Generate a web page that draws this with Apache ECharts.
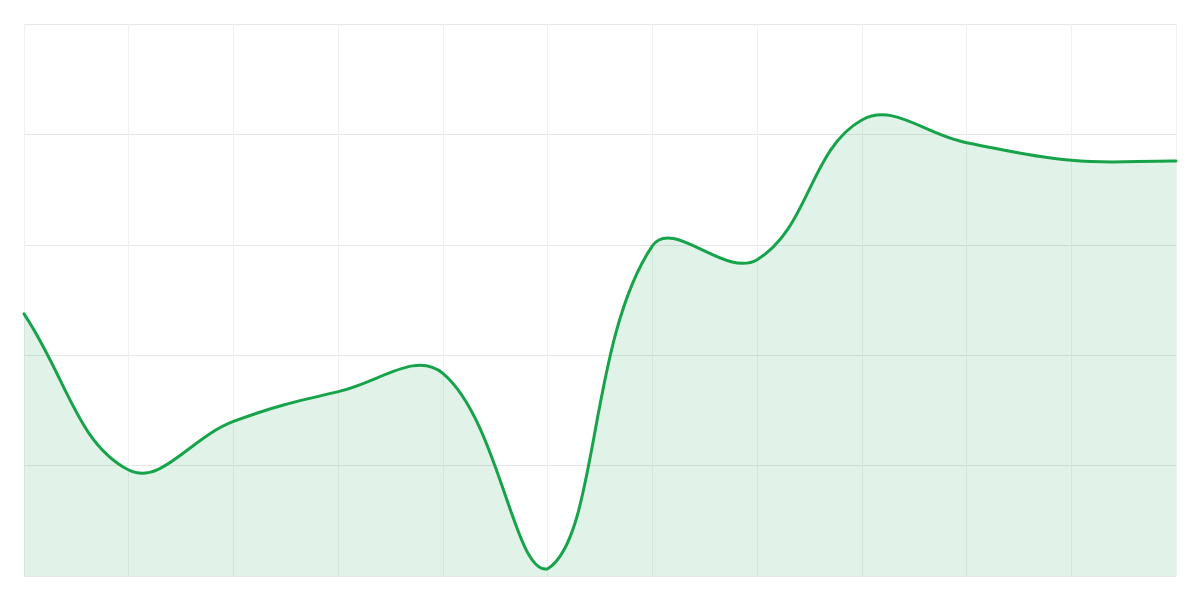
<!DOCTYPE html>
<html lang="en">
<head>
    <meta charset="UTF-8">
    <title>Area</title>
    <script src="https://cdn.jsdelivr.net/npm/echarts@6/dist/echarts.min.js"></script>
    <style>
        html, body { margin: 0; padding: 0; background: #fff; }
    </style>
</head>
<body>

<div id="main" style="width: 1200px;height: 600px"></div>

<script>
    // points along the x axis (no labels shown)
    var categories = ['1', '2', '3', '4', '5', '6', '7', '8', '9', '10', '11', '12'];
    var values = [47.5, 19.2, 28.0, 33.4, 36.7, 1.3, 59.8, 57.3, 82.6, 78.5, 75.3, 75.2];

    var tension = 0.4;

    // cubic spline through the mapped points (tension style), returns svg path string
    function splinePath(pts, rect) {
        var cps = [];
        for (var i = 0; i < pts.length; i++) {
            var cur = pts[i];
            var prev = pts[i - 1] || cur;
            var next = pts[i + 1] || cur;
            var d01 = Math.hypot(cur[0] - prev[0], cur[1] - prev[1]);
            var d12 = Math.hypot(next[0] - cur[0], next[1] - cur[1]);
            var s01 = d01 / (d01 + d12) || 0;
            var s12 = d12 / (d01 + d12) || 0;
            var fa = tension * s01, fb = tension * s12;
            var cpPrev = [cur[0] - fa * (next[0] - prev[0]), cur[1] - fa * (next[1] - prev[1])];
            var cpNext = [cur[0] + fb * (next[0] - prev[0]), cur[1] + fb * (next[1] - prev[1])];
            // keep control points in the plot area
            [cpPrev, cpNext].forEach(function (c) {
                c[0] = Math.min(Math.max(c[0], rect.x), rect.x + rect.width);
                c[1] = Math.min(Math.max(c[1], rect.y), rect.y + rect.height);
            });
            cps.push([cpPrev, cpNext]);
        }
        var d = 'M' + pts[0][0] + ' ' + pts[0][1];
        for (var j = 1; j < pts.length; j++) {
            var a = cps[j - 1][1], b = cps[j][0];
            d += ' C' + a[0] + ' ' + a[1] + ' ' + b[0] + ' ' + b[1] + ' ' + pts[j][0] + ' ' + pts[j][1];
        }
        return d;
    }

    var myChart = echarts.init(document.getElementById('main'));

    var option = {
        animation: false,
        grid: { left: 24, right: 24, top: 24, bottom: 24 },
        xAxis: {
            type: 'category',
            data: categories,
            boundaryGap: false,
            axisLine: { show: true, lineStyle: { color: '#e6e6e6' } },
            axisTick: { show: false },
            axisLabel: { show: false },
            splitLine: { show: true, lineStyle: { color: '#f0f0f0' } }
        },
        yAxis: {
            type: 'value',
            min: 0,
            max: 100,
            interval: 20,
            axisLine: { show: false },
            axisTick: { show: false },
            axisLabel: { show: false },
            splitLine: { show: true, lineStyle: { color: '#e6e6e6' } }
        },
        series: [
            {
                type: 'custom',
                data: values.map(function (v, i) { return [i, v]; }),
                renderItem: function (params, api) {
                    if (params.dataIndex !== 0) return null;
                    var rect = params.coordSys;
                    var pts = values.map(function (v, i) { return api.coord([i, v]); });
                    var line = splinePath(pts, rect);
                    var base = api.coord([0, 0])[1];
                    var area = line + ' L' + pts[pts.length - 1][0] + ' ' + base +
                        ' L' + pts[0][0] + ' ' + base + ' Z';
                    return {
                        type: 'group',
                        children: [
                            {
                                type: 'path',
                                shape: { pathData: area },
                                style: { fill: 'rgba(22,163,74,0.13)', stroke: null }
                            },
                            {
                                type: 'path',
                                shape: { pathData: line },
                                style: {
                                    fill: null,
                                    stroke: '#16a34a',
                                    lineWidth: 3,
                                    lineJoin: 'round',
                                    lineCap: 'round'
                                }
                            }
                        ]
                    };
                }
            }
        ]
    };

    myChart.setOption(option);
</script>

</body>
</html>
